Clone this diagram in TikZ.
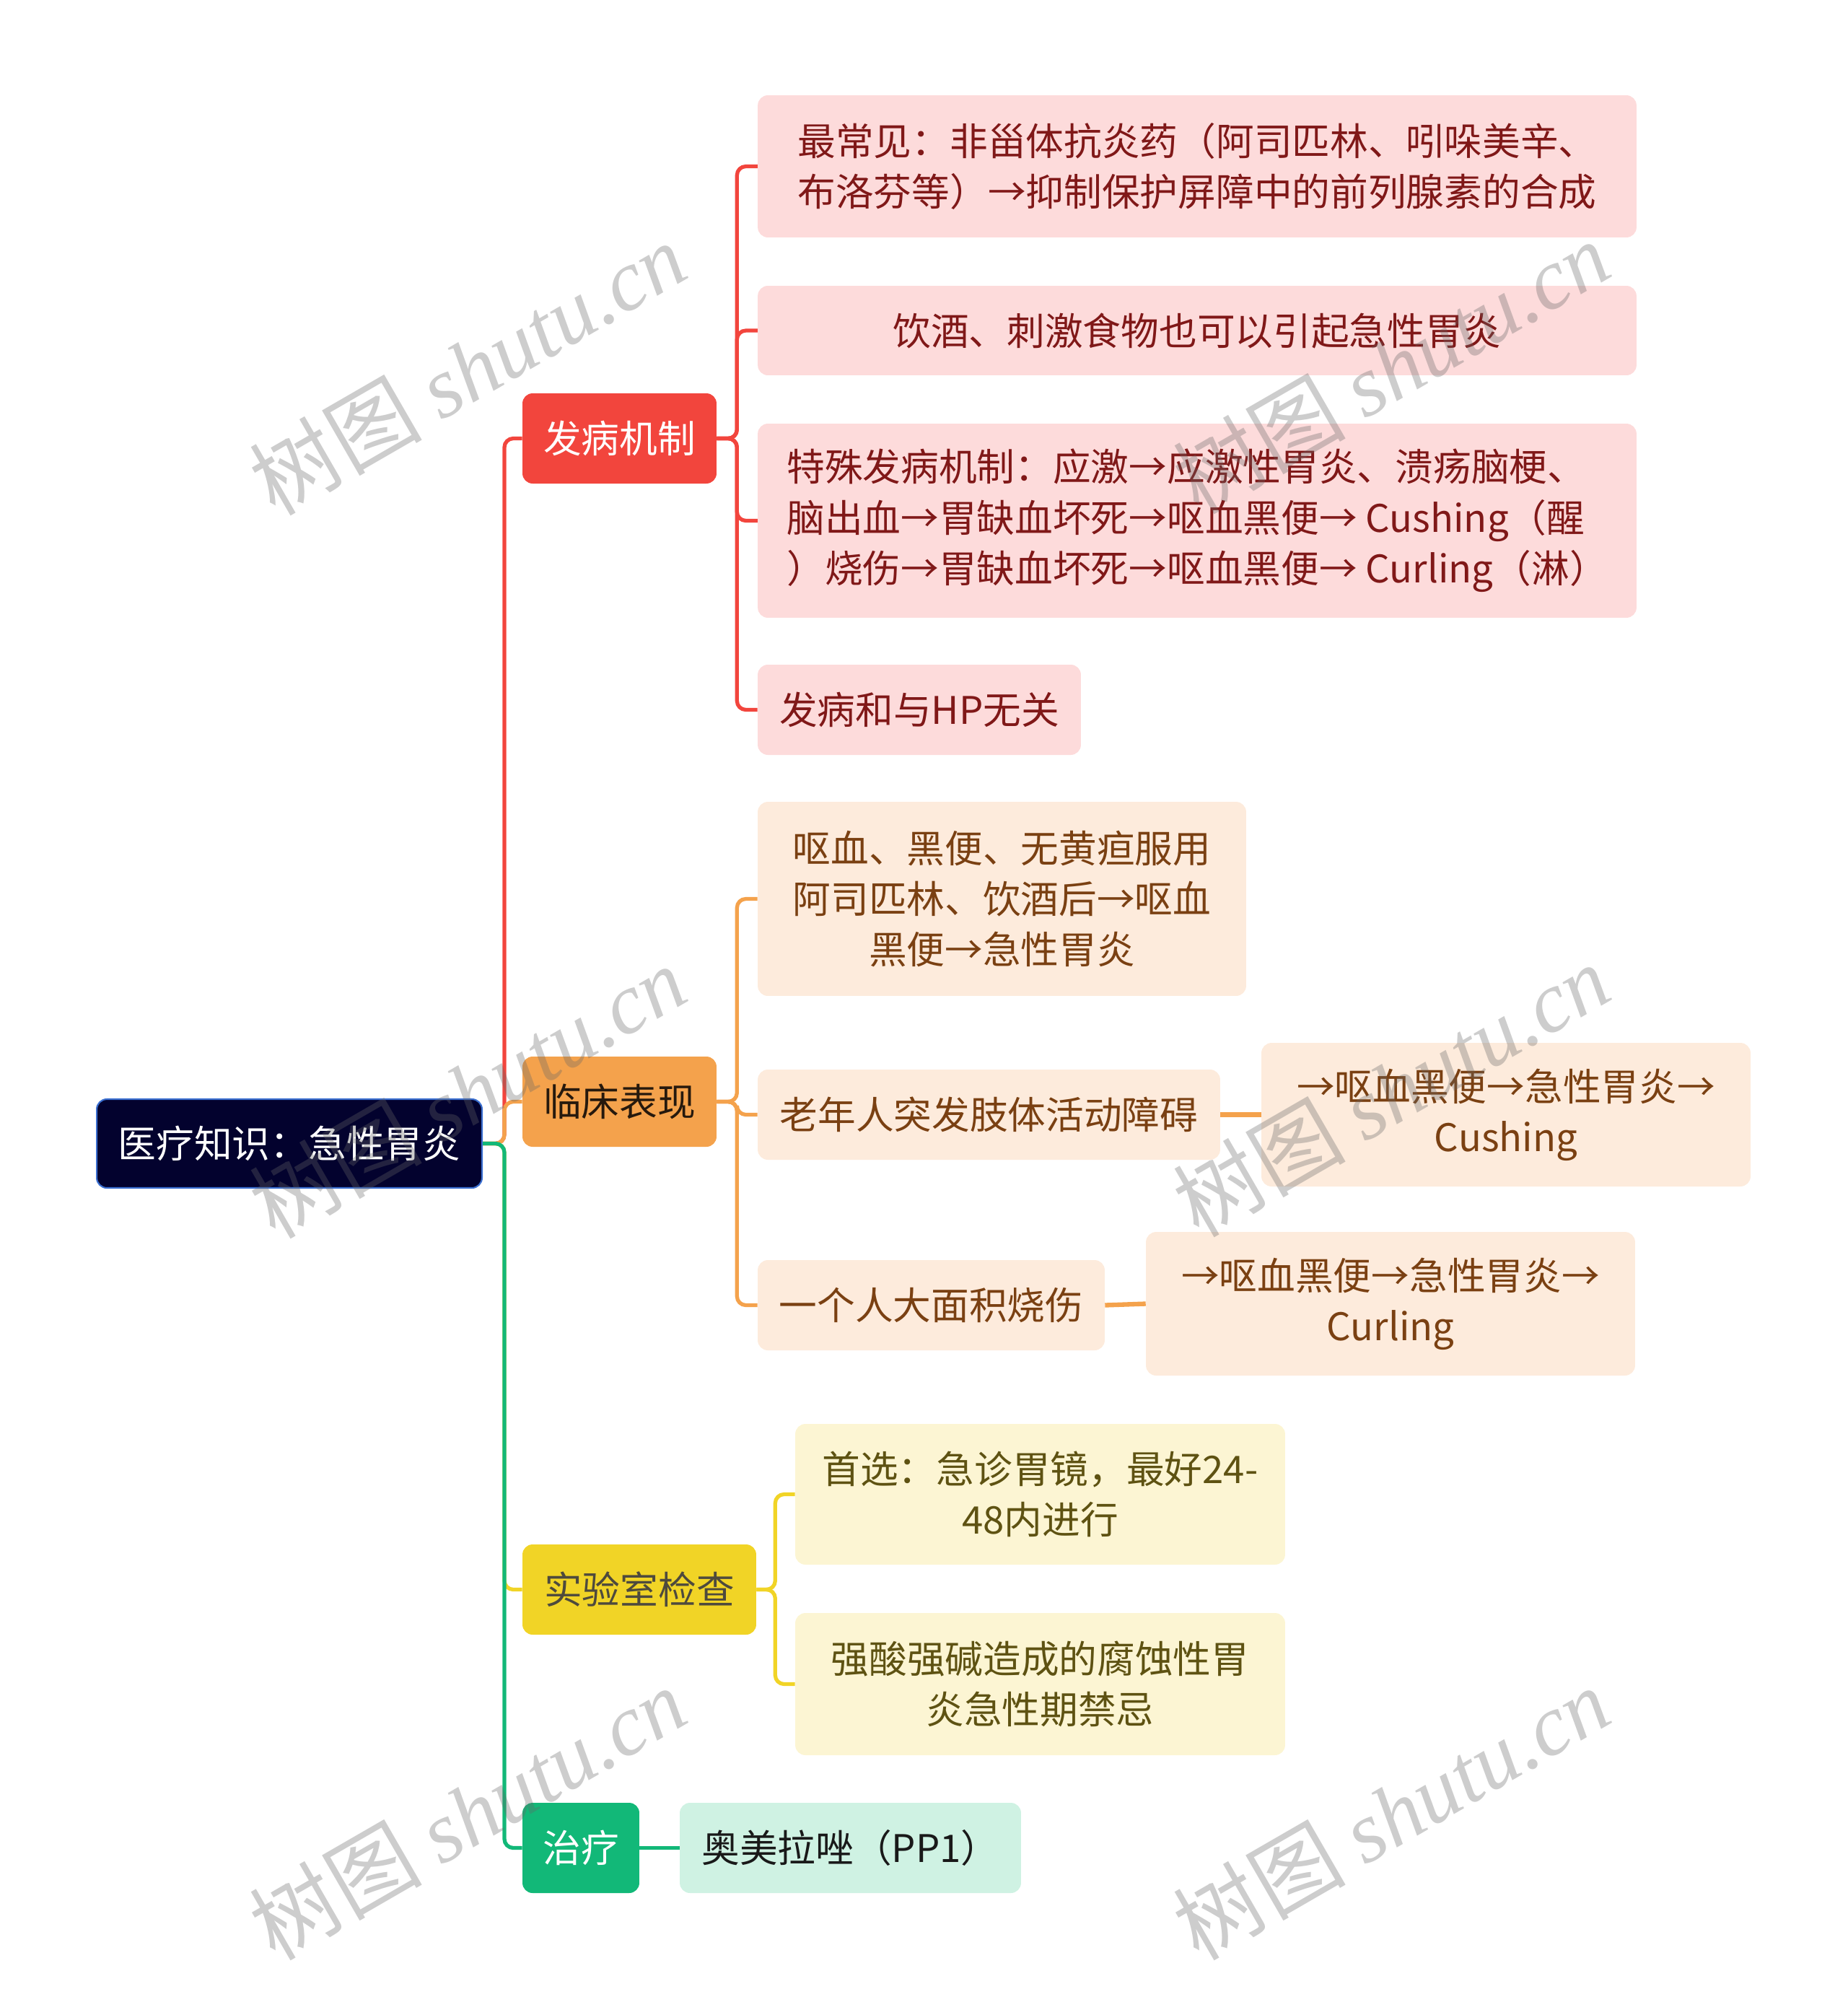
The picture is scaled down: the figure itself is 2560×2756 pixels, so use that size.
\documentclass[tikz,border=0pt]{standalone}
\usepackage{fontspec}
\setmainfont{Noto Sans CJK SC}
\newfontfamily\wmlatin{Liberation Serif}
\usetikzlibrary{positioning}
\definecolor{cred}{HTML}{F2453D}
\definecolor{corange}{HTML}{F4A24C}
\definecolor{cyellow}{HTML}{F1D426}
\definecolor{cgreen}{HTML}{12B878}
\definecolor{fred}{HTML}{FDDBDB}
\definecolor{forange}{HTML}{FDEBDC}
\definecolor{fyellow}{HTML}{FCF5D3}
\definecolor{fgreen}{HTML}{CFF2E3}
\definecolor{tred}{HTML}{801818}
\definecolor{torange}{HTML}{7A4012}
\definecolor{tyellow}{HTML}{5E5212}
\definecolor{rootfill}{HTML}{03022E}
\definecolor{rootline}{HTML}{3B6FD0}
\begin{document}
\begin{tikzpicture}[x=0.02cm,y=-0.02cm,
  box/.style={rounded corners=8pt, inner sep=0pt, align=center,
    font=\fontsize{30pt}{40pt}\selectfont},
  rootbox/.style={box, fill=rootfill, draw=rootline, line width=1.2pt, text=white, minimum height=2.46cm},
  redbr/.style={box, fill=cred, text=white, minimum height=2.5cm},
  orbr/.style={box, fill=corange, text=black!80!brown, minimum height=2.5cm},
  yebr/.style={box, fill=cyellow, text=black!80!yellow, minimum height=2.5cm},
  grbr/.style={box, fill=cgreen, text=white, minimum height=2.5cm},
  redlf/.style={box, fill=fred, text=tred},
  orlf/.style={box, fill=forange, text=torange},
  yelf/.style={box, fill=fyellow, text=tyellow},
  grlf/.style={box, fill=fgreen, text=black!90},
  conn/.style={line width=3pt, rounded corners=7pt},
  wm/.style={rotate=30, text=black!60, opacity=0.33, font=\fontsize{68pt}{76pt}\selectfont}
]
\useasboundingbox (0,0) rectangle (2560,2756);

% root
\node[rootbox, minimum width=10.68cm] (root) at (401,1584.5) {医疗知识：急性胃炎};

% branches
\node[redbr, minimum width=5.38cm] (b1) at (858.5,607.5) {发病机制};
\node[orbr, minimum width=5.38cm] (b2) at (858.5,1526.5) {临床表现};
\node[yebr, minimum width=6.48cm] (b3) at (886,2202.5) {实验室检查};
\node[grbr, minimum width=3.24cm] (b4) at (805,2560.5) {治疗};

% leaves of branch 1
\node[redlf, minimum width=24.36cm, minimum height=3.94cm, align=left] (l1) at (1659,230.5)
  {最常见：非甾体抗炎药（阿司匹林、吲哚美辛、\\布洛芬等）→抑制保护屏障中的前列腺素的合成};
\node[redlf, minimum width=24.36cm, minimum height=2.48cm] (l2) at (1659,458)
  {饮酒、刺激食物也可以引起急性胃炎};
\node[redlf, minimum width=24.36cm, minimum height=5.38cm, align=left] (l3) at (1659,721.5)
  {特殊发病机制：应激→应激性胃炎、溃疡脑梗、\\脑出血→胃缺血坏死→呕血黑便→ Cushing（醒\\）烧伤→胃缺血坏死→呕血黑便→ Curling（淋）};
\node[redlf, minimum width=8.96cm, minimum height=2.5cm] (l4) at (1274,983.5)
  {发病和与HP无关};

% leaves of branch 2
\node[orlf, minimum width=13.54cm, minimum height=5.38cm] (l5) at (1388.5,1245.5)
  {呕血、黑便、无黄疸服用\\阿司匹林、饮酒后→呕血\\黑便→急性胃炎};
\node[orlf, minimum width=12.82cm, minimum height=2.5cm] (l6) at (1370.5,1544.5)
  {老年人突发肢体活动障碍};
\node[orlf, minimum width=13.56cm, minimum height=3.98cm] (l6b) at (2087,1544.5)
  {→呕血黑便→急性胃炎→\\Cushing};
\node[orlf, minimum width=9.62cm, minimum height=2.5cm] (l7) at (1290.5,1808.5)
  {一个人大面积烧伤};
\node[orlf, minimum width=13.56cm, minimum height=3.98cm] (l7b) at (1927,1806.5)
  {→呕血黑便→急性胃炎→\\Curling};

% leaves of branch 3
\node[yelf, minimum width=13.58cm, minimum height=3.9cm] (l8) at (1441.5,2070.5)
  {首选：急诊胃镜，最好24-\\48内进行};
\node[yelf, minimum width=13.58cm, minimum height=3.94cm] (l9) at (1441.5,2333.5)
  {强酸强碱造成的腐蚀性胃\\炎急性期禁忌};

% leaf of branch 4
\node[grlf, minimum width=9.46cm, minimum height=2.5cm] (l10) at (1178.5,2560.5)
  {奥美拉唑（PP1）};

% connectors root -> branches
\draw[conn, cred] (root.east) -- ++(30,0) |- (b1.west);
\draw[conn, corange] (root.east) -- ++(30,0) |- (b2.west);
\draw[conn, cyellow] (root.east) -- ++(30,0) |- (b3.west);
\draw[conn, cgreen] (root.east) -- ++(30,0) |- (b4.west);

% branch 1
\draw[conn, cred] (b1.east) -- ++(28,0) |- (l1.west);
\draw[conn, cred] (b1.east) -- ++(28,0) |- (l2.west);
\draw[conn, cred] (b1.east) -- ++(28,0) |- (l3.west);
\draw[conn, cred] (b1.east) -- ++(28,0) |- (l4.west);

% branch 2
\draw[conn, corange] (b2.east) -- ++(28,0) |- (l5.west);
\draw[conn, corange] (b2.east) -- ++(28,0) |- (l6.west);
\draw[conn, corange] (b2.east) -- ++(28,0) |- (l7.west);
\draw[conn, corange, line width=3.6pt] (l6.east) -- (l6b.west);
\draw[conn, corange, line width=3.6pt] (l7.east) -- (l7b.west);

% branch 3
\draw[conn, cyellow] (b3.east) -- ++(26,0) |- (l8.west);
\draw[conn, cyellow] (b3.east) -- ++(26,0) |- (l9.west);

% branch 4
\draw[conn, cgreen] (b4.east) -- (l10.west);

% watermarks
\foreach \i/\x/\y in {1/648/510, 2/1928/508, 3/648/1512, 4/1928/1510, 5/648/2512, 6/1928/2512}{
  \node[wm] (wm\i) at (\x,\y) {树图 {\wmlatin\itshape shutu.cn}};
}
\end{tikzpicture}
\end{document}
